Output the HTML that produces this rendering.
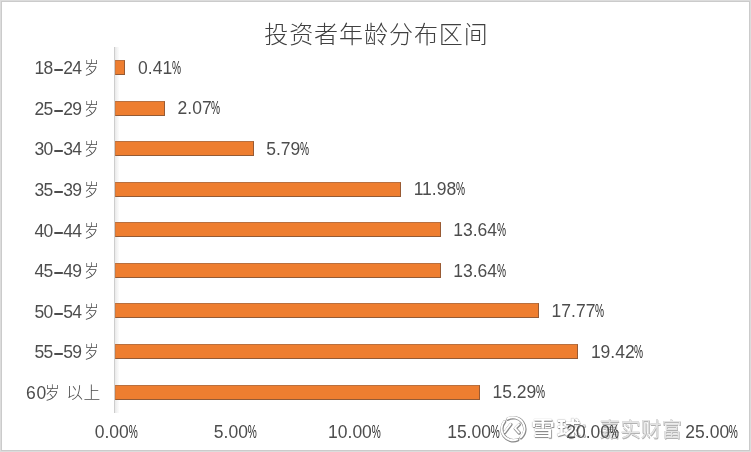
<!DOCTYPE html>
<html><head><meta charset="utf-8"><style>
html,body{margin:0;padding:0;}
body{width:751px;height:452px;position:relative;overflow:hidden;background:#fff;
 font-family:"Liberation Sans","Noto Sans CJK SC",sans-serif;color:#4d4d4d;}
.frame{position:absolute;left:0;top:0;width:749px;height:450px;border:1px solid #dcdcdc;}
.frame2{position:absolute;left:1px;top:1px;width:747px;height:448px;border:1px solid #cbcbcb;}
.t{position:absolute;white-space:nowrap;line-height:1;filter:grayscale(1);}
.title{font-size:24px;font-family:"Noto Sans CJK SC",sans-serif;font-weight:300;color:#404040;letter-spacing:0.95px;transform:translate(-50%,-50%);}
.cl{font-size:17.5px;transform:translate(-100%,-50%);letter-spacing:-0.6px;}
.cl .cj{display:inline-block;font-size:17px;font-weight:300;letter-spacing:0;margin-left:2.4px;margin-right:-1.6px;transform:scaleX(0.86);transform-origin:0 50%;}
.cl .cj2{display:inline;transform:none;font-size:16.8px;letter-spacing:0.6px;margin-left:1.2px;margin-right:0;}
.dl{font-size:17.5px;transform:translate(0,-50%);}
.al{z-index:2;font-size:17.5px;transform:translate(-50%,-50%);}
.pc{display:inline-block;transform:scaleX(0.58);transform-origin:0 50%;margin-left:-0.3px;margin-right:-6.6px;color:#2a2a2a;}
.hy{display:inline-block;transform:scale(2,1.5);margin:0 2.6px;}
.cj{font-family:"Noto Sans CJK SC",sans-serif;}
.axis{position:absolute;background:#cdcdcd;}
.bar{position:absolute;background:#ee7e30;box-sizing:border-box;border:1px solid #b0683a;border-top-color:#b9703f;border-bottom-color:#935b36;border-right-color:#985a33;border-left-color:#d07a3e;}
.wm1{font-family:"Noto Sans CJK SC",sans-serif;font-size:21px;font-weight:700;color:#fff;letter-spacing:1.5px;transform:scale(1.14,0.95);transform-origin:0 0;text-shadow:0 0 0.8px rgba(0,0,0,.55),0.6px 0.8px 0.8px rgba(0,0,0,.45);}
.wm2{font-family:"Noto Sans CJK SC",sans-serif;font-size:20.5px;font-weight:400;color:#e4e4e4;letter-spacing:0.1px;text-shadow:0 0 0.6px rgba(0,0,0,.35),0.5px 0.6px 0.6px rgba(0,0,0,.3);}
</style></head><body>
<div class="frame"></div><div class="frame2"></div>
<div class="t title" style="left:376.50px;top:33.10px">投资者年龄分布区间</div>
<div style="position:absolute;left:115px;top:47.00px;width:4px;height:366.04px;background:linear-gradient(to right,#e9e9e9,#f3f3f3 50%,#fcfcfc)"></div>
<div class="axis" style="left:114px;top:47.00px;width:1px;height:366.04px"></div>
<div class="bar" style="left:115px;top:60.03px;width:10.37px;height:15.00px"></div>
<div class="t cl" style="left:99.20px;top:68.28px">18<span class="hy">-</span>24<span class="cj">岁</span></div>
<div class="t dl" style="left:138.07px;top:68.78px">0.41<span class="pc">%</span></div>
<div class="bar" style="left:115px;top:100.59px;width:49.91px;height:15.00px"></div>
<div class="t cl" style="left:99.20px;top:108.84px">25<span class="hy">-</span>29<span class="cj">岁</span></div>
<div class="t dl" style="left:177.61px;top:109.34px">2.07<span class="pc">%</span></div>
<div class="bar" style="left:115px;top:141.15px;width:138.52px;height:15.00px"></div>
<div class="t cl" style="left:99.20px;top:149.40px">30<span class="hy">-</span>34<span class="cj">岁</span></div>
<div class="t dl" style="left:266.22px;top:149.90px">5.79<span class="pc">%</span></div>
<div class="bar" style="left:115px;top:181.71px;width:285.96px;height:15.00px"></div>
<div class="t cl" style="left:99.20px;top:189.96px">35<span class="hy">-</span>39<span class="cj">岁</span></div>
<div class="t dl" style="left:413.66px;top:190.46px">11.98<span class="pc">%</span></div>
<div class="bar" style="left:115px;top:222.27px;width:325.50px;height:15.00px"></div>
<div class="t cl" style="left:99.20px;top:230.52px">40<span class="hy">-</span>44<span class="cj">岁</span></div>
<div class="t dl" style="left:453.20px;top:231.02px">13.64<span class="pc">%</span></div>
<div class="bar" style="left:115px;top:262.83px;width:325.50px;height:15.00px"></div>
<div class="t cl" style="left:99.20px;top:271.08px">45<span class="hy">-</span>49<span class="cj">岁</span></div>
<div class="t dl" style="left:453.20px;top:271.58px">13.64<span class="pc">%</span></div>
<div class="bar" style="left:115px;top:303.39px;width:423.88px;height:15.00px"></div>
<div class="t cl" style="left:99.20px;top:311.64px">50<span class="hy">-</span>54<span class="cj">岁</span></div>
<div class="t dl" style="left:551.58px;top:312.14px">17.77<span class="pc">%</span></div>
<div class="bar" style="left:115px;top:343.95px;width:463.18px;height:15.00px"></div>
<div class="t cl" style="left:99.20px;top:352.20px">55<span class="hy">-</span>59<span class="cj">岁</span></div>
<div class="t dl" style="left:590.88px;top:352.70px">19.42<span class="pc">%</span></div>
<div class="bar" style="left:115px;top:384.51px;width:364.81px;height:15.00px"></div>
<div class="t cl" style="left:101.00px;top:392.76px"><span style="letter-spacing:0.8px">60</span><span class="cj" style="margin-left:-1.6px">岁</span> <span class="cj cj2">以上</span></div>
<div class="t dl" style="left:492.51px;top:393.26px">15.29<span class="pc">%</span></div>
<div class="t al" style="left:116.10px;top:433.00px">0.00<span class="pc">%</span></div>
<div class="t al" style="left:235.20px;top:433.00px">5.00<span class="pc">%</span></div>
<div class="t al" style="left:354.30px;top:433.00px">10.00<span class="pc">%</span></div>
<div class="t al" style="left:473.40px;top:433.00px">15.00<span class="pc">%</span></div>
<div class="t al" style="left:592.50px;top:433.00px">20.00<span class="pc">%</span></div>
<div class="t al" style="left:711.60px;top:433.00px">25.00<span class="pc">%</span></div>
<svg style="position:absolute;left:498px;top:414px" width="32" height="32" viewBox="0 0 32 32">
<defs><filter id="sh" x="-20%" y="-20%" width="140%" height="140%"><feGaussianBlur stdDeviation="0.45"/></filter></defs>
<g fill="none" stroke-linecap="round" stroke-linejoin="round">
<g stroke="#8a8a8a" stroke-width="3.4" filter="url(#sh)" transform="translate(0.4,0.5)">
<path d="M9.25 4.74 A11.5 11.5 0 0 1 22.69 23.25"/>
<path d="M19.31 25.36 A11.5 11.5 0 0 1 6.19 7.31"/>
<path d="M12.5 10.1 L6.5 18.1"/>
<path d="M20.9 10.1 L16.9 14.1 L20.9 18.5"/>
</g>
<g stroke="#fff" stroke-width="1.9">
<path d="M9.25 4.74 A11.5 11.5 0 0 1 22.69 23.25"/>
<path d="M19.31 25.36 A11.5 11.5 0 0 1 6.19 7.31"/>
<path d="M12.5 10.1 L6.5 18.1"/>
<path d="M20.9 10.1 L16.9 14.1 L20.9 18.5"/>
</g>
</g></svg>
<div class="t wm1" style="left:531px;top:417.80px">雪球</div>
<div class="t wm2" style="left:579px;top:417.80px">：嘉实财富</div>
</body></html>
